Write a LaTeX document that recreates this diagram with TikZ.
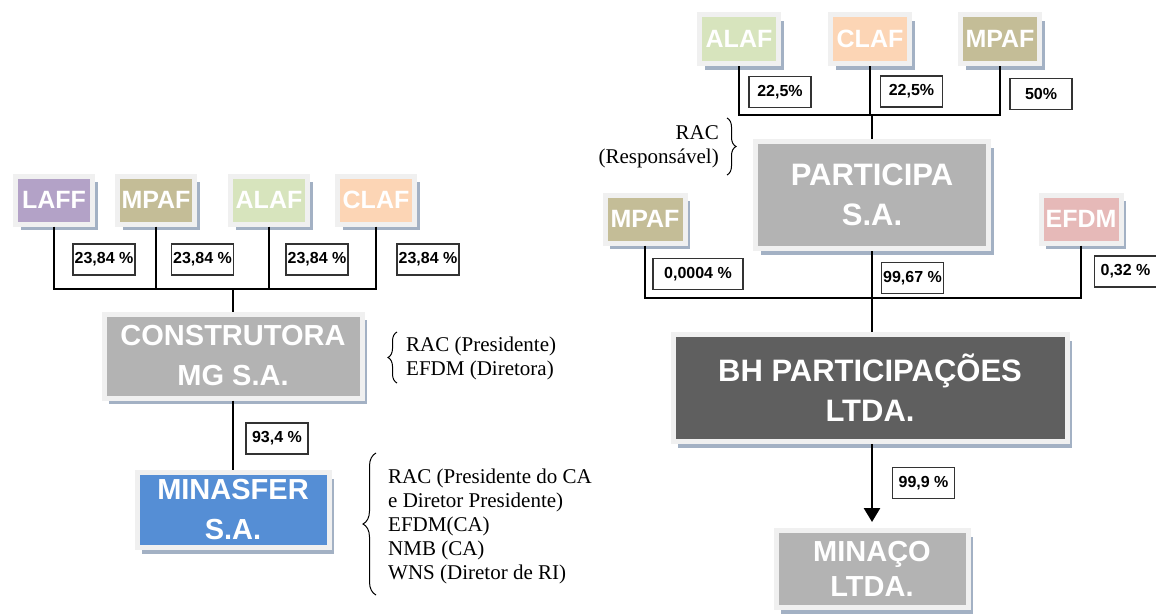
\documentclass[tikz,border=0pt]{standalone}
\usepackage{fontspec}
\setmainfont{Liberation Serif}
\newfontfamily\arialfont{Liberation Sans}
\usetikzlibrary{shadows,arrows.meta,decorations.pathreplacing}
\definecolor{framegray}{HTML}{F0F0F0}
\definecolor{shadowblue}{HTML}{A3B1C4}
\definecolor{laffcol}{HTML}{B3A2C7}
\definecolor{mpafcol}{HTML}{C4BD97}
\definecolor{alafcol}{HTML}{D7E4BD}
\definecolor{clafcol}{HTML}{FCD5B5}
\definecolor{efdmcol}{HTML}{E6B9B8}
\definecolor{cinza}{HTML}{B3B3B3}
\definecolor{azul}{HTML}{558ED5}
\definecolor{escuro}{HTML}{5F5F5F}
\tikzset{
  empresa/.style={draw=framegray,line width=5pt,fill=#1,text=white,align=center,inner sep=0pt,
    drop shadow={shadow xshift=5pt,shadow yshift=-6pt,fill=shadowblue,opacity=1},
    font=\arialfont\bfseries\fontsize{29}{40}\selectfont},
  socio/.style={empresa=#1,minimum width=77pt,minimum height=48pt,
    font=\arialfont\bfseries\fontsize{25}{30}\selectfont},
  pct/.style={draw=black!80,line width=1.5pt,fill=white,minimum width=62pt,minimum height=31pt,
    inner sep=1pt,font=\arialfont\bfseries\fontsize{16}{18}\selectfont},
  elo/.style={line width=2.7pt,black},
  chave/.style={decorate,decoration={brace,amplitude=#1},line width=1pt},
  nota/.style={inner sep=0pt,font=\fontsize{21}{24}\selectfont},
}
\begin{document}
\begin{tikzpicture}[x=1pt,y=-1pt]
\useasboundingbox (0,0) rectangle (1156,613);

% grupo construtora
\node[socio=laffcol] (laff) at (54,200) {LAFF};
\node[socio=mpafcol] (mpafC) at (156,200) {MPAF};
\node[socio=alafcol] (alafC) at (269,200) {ALAF};
\node[socio=clafcol] (clafC) at (376,200) {CLAF};
\node[empresa=cinza,minimum width=258pt,minimum height=84pt] (constr) at (233,356) {CONSTRUTORA\\MG S.A.};
\node[empresa=azul,minimum width=192pt,minimum height=75pt] (minasfer) at (233,510) {MINASFER\\S.A.};

\coordinate (jC) at (233,289);
\foreach \s in {laff,mpafC,alafC,clafC}
  \draw[elo] (\s.south) |- (jC);
\draw[elo] (jC) -- (constr.north);
\draw[elo] (constr.south) -- (minasfer.north);

\node[pct] (pLaff) at (104,259.5) {23,84 \%};
\node[pct] (pMpafC) at (202.5,259.5) {23,84 \%};
\node[pct] (pAlafC) at (317,259.5) {23,84 \%};
\node[pct] (pClafC) at (428,259.5) {23,84 \%};
\node[pct] (pMinasfer) at (277,438.5) {93,4 \%};

\draw[chave=9pt] (397,383) -- (397,332);
\node[nota,anchor=west,align=left] (notaC) at (406,358) {RAC (Presidente)\\EFDM (Diretora)};
\draw[chave=13pt] (376,595) -- (376,453);
\node[nota,anchor=west,align=left] (notaM) at (388,526) {RAC (Presidente do CA\\e Diretor Presidente)\\EFDM(CA)\\NMB (CA)\\WNS (Diretor de RI)};

% grupo participa
\node[socio=alafcol,minimum width=79pt,minimum height=49pt] (alafP) at (739,39) {ALAF};
\node[socio=clafcol,minimum width=79pt,minimum height=49pt] (clafP) at (870,39) {CLAF};
\node[socio=mpafcol,minimum width=79pt,minimum height=49pt] (mpafP) at (1000,39) {MPAF};
\node[empresa=cinza,minimum width=233pt,minimum height=107pt,font=\arialfont\bfseries\fontsize{31}{40}\selectfont] (partic) at (872,195) {PARTICIPA\\S.A.};
\node[socio=mpafcol,minimum width=80pt] (mpafB) at (645,219) {MPAF};
\node[socio=efdmcol,minimum width=80pt] (efdm) at (1081,219) {EFDM};
\node[empresa=escuro,minimum width=394pt,minimum height=107pt,font=\arialfont\bfseries\fontsize{31}{40}\selectfont] (bh) at (870,388) {BH PARTICIPAÇÕES\\LTDA.};
\node[empresa=cinza,minimum width=192pt,minimum height=77pt,font=\arialfont\bfseries\fontsize{29}{35}\selectfont] (minaco) at (872,569) {MINAÇO\\LTDA.};

\coordinate (jP) at (872,115);
\foreach \s in {alafP,clafP,mpafP}
  \draw[elo] (\s.south) |- (jP);
\draw[elo] (jP) -- (partic.north);
\coordinate (jB) at (872,298);
\foreach \s in {mpafB,efdm}
  \draw[elo] (\s.south) |- (jB);
\draw[elo] (partic.south) -- (bh.north -| partic.south);
\draw[elo,-{Triangle[width=16pt,length=14pt]}] (bh.south -| minaco.north) -- ([yshift=6pt]minaco.north);

\node[pct] (pAlafP) at (780,92) {22,5\%};
\node[pct] (pClafP) at (911.5,91.5) {22,5\%};
\node[pct] (pMpafP) at (1041,94) {50\%};
\node[pct,minimum width=90pt] (pMpafB) at (698,274) {0,0004 \%};
\node[pct] (pPartic) at (912.5,278) {99,67 \%};
\node[pct] (pEfdm) at (1125.5,271.5) {0,32 \%};
\node[pct] (pMinaco) at (923.5,483) {99,9 \%};

\draw[chave=9pt] (727,118) -- (727,175);
\node[nota,anchor=east,align=right] (notaP) at (719,147) {RAC\\(Responsável)};
\end{tikzpicture}
\end{document}
